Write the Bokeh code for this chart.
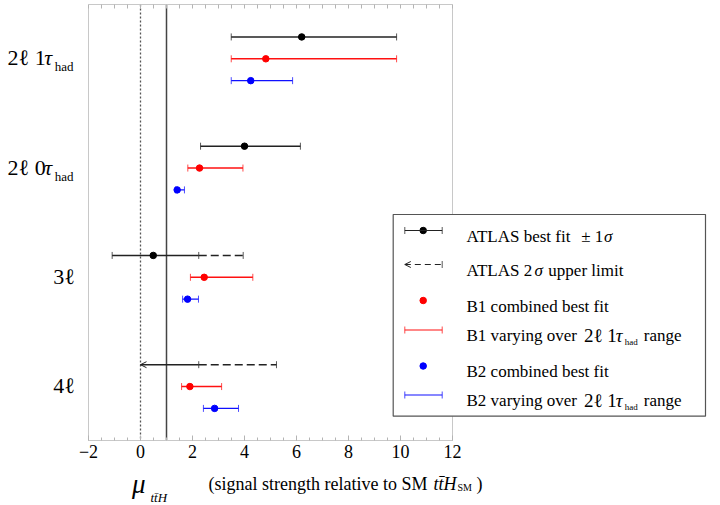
import numpy as np
from bokeh.plotting import figure
from bokeh.layouts import column
from bokeh.models import (Range1d, Whisker, TeeHead, OpenHead, ColumnDataSource,
                          Label, Span, LinearAxis, FixedTicker)
from bokeh.embed import file_html
from bokeh.resources import INLINE

# ------------------------------------------------------------------ data
channels = ["2ℓ 1τ_had", "2ℓ 0τ_had", "3ℓ", "4ℓ"]

atlas_fit = [6.20, 4.00, 0.49, None]
atlas_lo = [3.49, 2.31, -1.09, 0.00]
atlas_hi = [9.85, 6.15, 2.24, 2.24]
atlas_limit = [None, None, 3.95, 5.23]

b1_fit = [4.82, 2.27, 2.45, 1.90]
b1_lo = [3.49, 1.82, 1.92, 1.58]
b1_hi = [9.85, 3.94, 4.32, 3.12]

b2_fit = [4.24, 1.41, 1.81, 2.85]
b2_lo = [3.49, 1.35, 1.62, 2.42]
b2_hi = [5.85, 1.69, 2.23, 3.77]

x_ticks = [-2, 0, 2, 4, 6, 8, 10, 12]
x_minor_step = 0.5
sm_mu = 1.0
zero_mu = 0.0

# ------------------------------------------------------------------ layout helpers
FONT = "Liberation Serif"
W = 716
H_MAIN, H_TITLE = 466, 38
FRAME_TOP, FRAME_BOTTOM = 4, 440
OX, SX = 140.0, 26.0      # page x of mu = 0, px per unit of mu
OY, SY = 58.3, 21.85      # page y of the top middle row, px per row
GROUP_STEP = 5
n = len(channels)
TOP_ROW = GROUP_STEP * (n - 1)


def X(px):
    return (px - OX) / SX


def Y(py):
    return TOP_ROW + (OY - py) / SY


gy = [GROUP_STEP * (n - 1 - i) for i in range(n)]
row_atlas = [g + 1 for g in gy]
row_b1 = list(gy)
row_b2 = [g - 1 for g in gy]

TW = {' ': .25, '(': .333, ')': .333, '±': .564, 'A': .722, 'B': .667, 'H': .722,
      'L': .611, 'M': .889, 'S': .556, 'T': .611, 'a': .444, 'b': .5, 'c': .444,
      'd': .5, 'e': .444, 'f': .333, 'g': .5, 'h': .5, 'i': .278, 'l': .278,
      'm': .778, 'n': .5, 'o': .5, 'p': .5, 'r': .333, 's': .389, 't': .278,
      'u': .5, 'v': .5, 'y': .5, 'ℓ': .42, 'τ': .45, 'σ': .55, 'μ': .58,
      '\u0304': 0.0}


def tw(s, size):
    return sum(TW.get(c, .5) for c in s) * size


x_range = Range1d(X(0), X(W))
p = figure(width=W, height=H_MAIN,
           x_range=x_range, y_range=Range1d(Y(FRAME_BOTTOM), Y(FRAME_TOP)),
           x_axis_type=None, y_axis_type=None,
           output_backend="svg", toolbar_location=None,
           min_border_left=0, min_border_right=0, min_border_top=FRAME_TOP,
           min_border_bottom=H_MAIN - FRAME_BOTTOM)
p.outline_line_color = None
p.background_fill_color = "white"
p.border_fill_color = "white"


def make_label(fig, x, y, text, size, style):
    fig.add_layout(Label(x=x, y=y, text=text, text_font=FONT,
                         text_font_size=f"{size}px", text_font_style=style,
                         text_color="black", text_align="left",
                         text_baseline="alphabetic"))


def rich(px0, ydata, pieces):
    """pieces: (text, size, style, dy_px_down, gap_before_px)"""
    x = px0
    for text, size, style, dy, gap in pieces:
        x += gap
        make_label(p, X(x), ydata - dy / SY, text, size, style)
        x += tw(text, size)


# ------------------------------------------------------------------ axes
minor = list(np.arange(x_ticks[0], x_ticks[-1] + 1e-9, x_minor_step))


def style_axis(ax):
    ax.axis_line_color = "#c8c8c8"
    ax.major_tick_in = 5
    ax.major_tick_out = 0
    ax.minor_tick_in = 3
    ax.minor_tick_out = 0
    ax.major_tick_line_color = "#b4b4b4"
    ax.minor_tick_line_color = "#b4b4b4"


xb = LinearAxis(ticker=FixedTicker(ticks=x_ticks, minor_ticks=minor),
                bounds=(x_ticks[0], x_ticks[-1]))
style_axis(xb)
xb.major_label_text_font = FONT
xb.major_label_text_font_size = "18px"
xb.major_label_text_color = "black"
xb.major_label_standoff = 4
xb.major_label_overrides = {t: (f"−{abs(t)}" if t < 0 else str(t)) for t in x_ticks}
p.add_layout(xb, "below")

# top border: tick marks only (no labels)
xt = LinearAxis(ticker=FixedTicker(ticks=[], minor_ticks=minor),
                bounds=(x_ticks[0], x_ticks[-1]))
style_axis(xt)
xt.minor_tick_in = 4
xt.major_label_standoff = 0
p.add_layout(xt, "above")

for loc in (x_ticks[0], x_ticks[-1]):
    p.add_layout(Span(location=loc, dimension="height", line_color="#c8c8c8",
                      line_width=1, level="underlay"))
p.add_layout(Span(location=zero_mu, dimension="height", line_color="#555555",
                  line_width=1.3, line_dash="2 2", level="underlay"))
p.add_layout(Span(location=sm_mu, dimension="height", line_color="#444444",
                  line_width=1.5, level="underlay"))

# ------------------------------------------------------------------ error bars
BLACK, RED, BLUE = "#222222", "#ff1010", "#1010ff"


def tee(c):
    return TeeHead(size=7, line_color=c, line_width=1, line_alpha=0.75)


def bars(base, lo, hi, color, lower_head="tee", dash="solid"):
    src = ColumnDataSource(dict(base=base, lower=lo, upper=hi))
    lh = tee(color) if lower_head == "tee" else lower_head
    p.add_layout(Whisker(source=src, base="base", lower="lower", upper="upper",
                         dimension="width", line_color=color, line_width=1.4,
                         line_dash=dash, upper_head=tee(color), lower_head=lh,
                         level="underlay"))


idx_fit = [i for i in range(n) if atlas_fit[i] is not None]
idx_nofit = [i for i in range(n) if atlas_fit[i] is None]
bars([row_atlas[i] for i in idx_fit], [atlas_lo[i] for i in idx_fit],
     [atlas_hi[i] for i in idx_fit], BLACK)
if idx_nofit:
    bars([row_atlas[i] for i in idx_nofit], [atlas_lo[i] for i in idx_nofit],
         [atlas_hi[i] for i in idx_nofit], BLACK,
         lower_head=OpenHead(size=6, line_color=BLACK, line_width=1))
idx_lim = [i for i in range(n) if atlas_limit[i] is not None]
bars([row_atlas[i] for i in idx_lim], [atlas_hi[i] for i in idx_lim],
     [atlas_limit[i] for i in idx_lim], BLACK, lower_head=None, dash="8 4")
p.scatter([atlas_fit[i] for i in idx_fit], [row_atlas[i] for i in idx_fit],
          size=6.5, color="black")

bars(row_b1, b1_lo, b1_hi, RED)
p.scatter(b1_fit, row_b1, size=6.5, color="red")
bars(row_b2, b2_lo, b2_hi, BLUE)
p.scatter(b2_fit, row_b2, size=6.5, color="blue")

# ------------------------------------------------------------------ channel labels
for i, ch in enumerate(channels):
    main, _, sub = ch.partition("_")
    pieces = []
    buf, style = "", None
    for c in main:
        st = "italic" if c in "τσμ" else "normal"
        if style is not None and st != style:
            pieces.append((buf, 22, style, 0, 0))
            buf = ""
        buf += c
        style = st
    pieces.append((buf, 22, style, 0, 0))
    if sub:
        pieces.append((sub, 13, "normal", 9, 0.5))
    width = sum(tw(t, s) + g for t, s, _, _, g in pieces)
    rich(73 - width, gy[i] + 1.0 / SY, pieces)

# ------------------------------------------------------------------ legend
p.quad(left=[X(392.7)], right=[X(705)], top=[Y(214)], bottom=[Y(415.7)],
       fill_color="white", line_color="#555555", line_width=1.2)
LX0, LX1, LXM, LTX = 404.3, 441.7, 422.7, 466
leg_rows = [230, 264, 300, 329.5, 365.5, 394.5]


def leg_bar(py, color, lower_head="tee", dash="solid"):
    src = ColumnDataSource(dict(base=[Y(py)], lower=[X(LX0)], upper=[X(LX1)]))
    lh = tee(color) if lower_head == "tee" else lower_head
    p.add_layout(Whisker(source=src, base="base", lower="lower", upper="upper",
                         dimension="width", line_color=color, line_width=1.2,
                         line_dash=dash, upper_head=tee(color), lower_head=lh,
                         level="overlay"))


leg_bar(leg_rows[0], BLACK)
leg_bar(leg_rows[1], BLACK, lower_head=OpenHead(size=6, line_color=BLACK, line_width=1),
        dash="6 4")
leg_bar(leg_rows[3], RED)
leg_bar(leg_rows[5], BLUE)
p.scatter([X(LXM), X(LXM), X(LXM)], [Y(leg_rows[0]), Y(leg_rows[2]), Y(leg_rows[4])],
          size=6.5, color=["black", "red", "blue"])

tau_range = [("2ℓ 1", 19, "normal", 0, 7), ("τ", 19, "italic", 0, 0),
             ("had", 9, "normal", 6, 0.5), ("range", 17, "normal", 0, 6)]
legend_texts = [
    [("ATLAS best fit", 17, "normal", 0, 0), ("± 1", 17, "normal", 0, 9),
     ("σ", 17, "italic", 0, 0.5)],
    [("ATLAS 2", 17, "normal", 0, 0), ("σ", 17, "italic", 0, 0.5),
     ("upper limit", 17, "normal", 0, 4.5)],
    [("B1 combined best fit", 17, "normal", 0, 0)],
    [("B1 varying over", 17, "normal", 0, 0)] + tau_range,
    [("B2 combined best fit", 17, "normal", 0, 0)],
    [("B2 varying over", 17, "normal", 0, 0)] + tau_range,
]
for py, pieces in zip(leg_rows, legend_texts):
    rich(LTX, Y(py + 5.5), pieces)

# ------------------------------------------------------------------ x title (own strip)
t = figure(width=W, height=H_TITLE, x_range=x_range,
           y_range=Range1d(H_MAIN + H_TITLE, H_MAIN),
           x_axis_type=None, y_axis_type=None,
           output_backend="svg", toolbar_location=None,
           min_border_left=0, min_border_right=0, min_border_top=0,
           min_border_bottom=0)
t.outline_line_color = None
t.background_fill_color = "white"
t.border_fill_color = "white"
TITLE_BASE = 483
for text, px, size, style, dy in [
        ("μ", 131.5, 27, "italic", 0),
        ("tt̄H", 150, 13, "italic", 14),
        ("(signal strength relative to SM", 208, 18, "normal", 0),
        ("tt̄H", 433, 18, "italic", 0),
        ("SM", 457, 10, "normal", 4),
        (")", 476, 18, "normal", 0)]:
    make_label(t, X(px), TITLE_BASE + dy, text, size, style)

layout = column(p, t, spacing=0)
open("out.html", "w").write(file_html(layout, INLINE))
